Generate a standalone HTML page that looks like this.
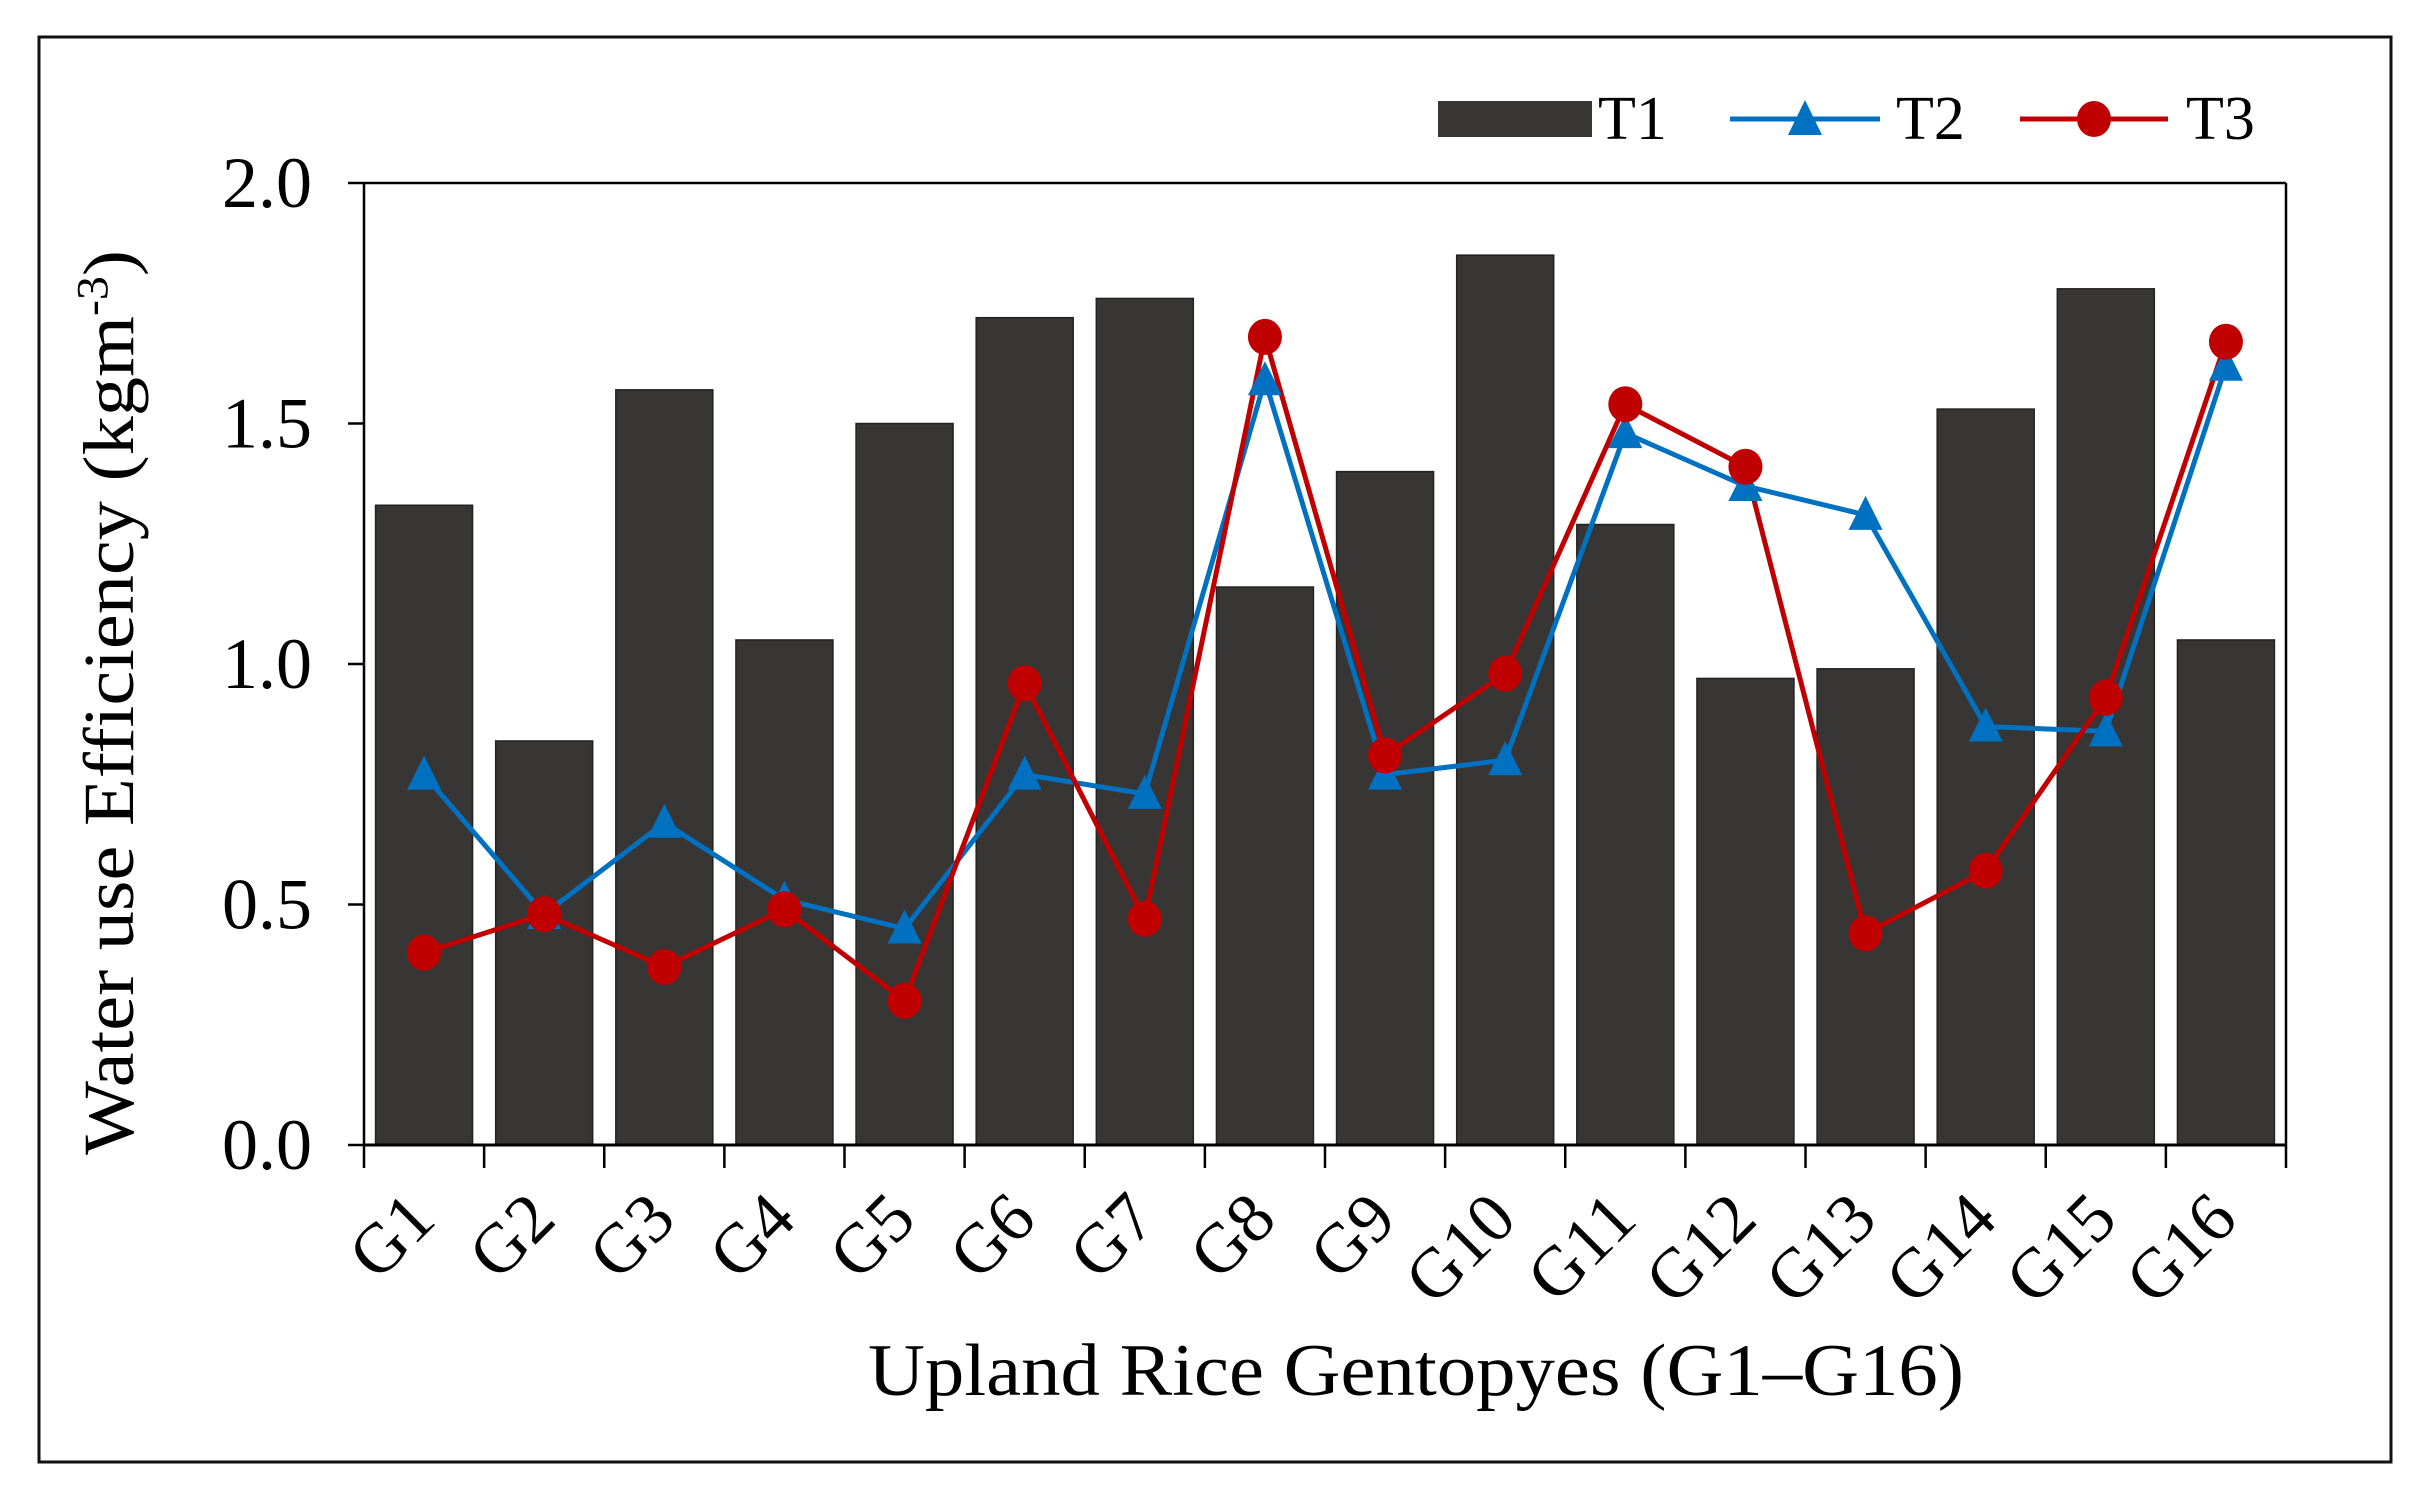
<!DOCTYPE html>
<html><head><meta charset="utf-8"><style>
html,body{margin:0;padding:0;background:#fff;}
svg{display:block;}
text{font-family:"Liberation Serif",serif;fill:#000;}
</style></head><body>
<svg width="2425" height="1498" viewBox="0 0 2425 1498" xmlns="http://www.w3.org/2000/svg">
<rect x="39" y="37" width="2352" height="1425" fill="#fff" stroke="#111" stroke-width="3"/>
<g id="bars" fill="#383634" stroke="#222" stroke-width="1.5"></g>
<line x1="364" y1="183" x2="2286" y2="183" stroke="#000" stroke-width="2.5"/>
<line x1="2286" y1="183" x2="2286" y2="1145" stroke="#000" stroke-width="2.5"/>
<line x1="364" y1="183" x2="364" y2="1145" stroke="#000" stroke-width="2.5"/>
<line x1="364" y1="1145" x2="2286" y2="1145" stroke="#000" stroke-width="3"/>
<g id="ticks" stroke="#000" stroke-width="2.5"></g>
<g id="ylab" font-size="72" text-anchor="end"></g>
<g id="xlab" font-size="70" text-anchor="end"></g>
<polyline id="l2" fill="none" stroke="#0070C0" stroke-width="5"/>
<polyline id="l3" fill="none" stroke="#C00000" stroke-width="5"/>
<g id="m2" fill="#0070C0"></g>
<g id="m3" fill="#C00000"></g>
<text x="868" y="1395" font-size="74" textLength="1096" lengthAdjust="spacingAndGlyphs">Upland Rice Gentopyes (G1–G16)</text>
<text transform="translate(133,1155) rotate(-90)" font-size="72" textLength="905" lengthAdjust="spacingAndGlyphs">Water use Efficiency (kgm<tspan dy="-26" font-size="44">-3</tspan><tspan dy="26">)</tspan></text>
<rect x="1438" y="101" width="154" height="36" fill="#383634"/>
<text x="1598" y="139" font-size="62">T1</text>
<line x1="1730" y1="119" x2="1880" y2="119" stroke="#0070C0" stroke-width="5"/>
<polygon points="1805,100 1788,135 1822,135" fill="#0070C0"/>
<text x="1896" y="139" font-size="62">T2</text>
<line x1="2020" y1="119" x2="2168" y2="119" stroke="#C00000" stroke-width="5"/>
<ellipse cx="2094" cy="119" rx="17" ry="18" fill="#C00000"/>
<text x="2186" y="139" font-size="62">T3</text>
</svg>
<script>
var t1=[1.33,0.84,1.57,1.05,1.50,1.72,1.76,1.16,1.40,1.85,1.29,0.97,0.99,1.53,1.78,1.05];
var t2=[0.77,0.48,0.67,0.51,0.45,0.77,0.73,1.59,0.77,0.80,1.48,1.37,1.31,0.87,0.86,1.62];
var t3=[0.40,0.48,0.37,0.49,0.30,0.96,0.47,1.68,0.81,0.98,1.54,1.41,0.44,0.57,0.93,1.67];
var x0=364,cw=(2286-364)/16,y0=1145,s=481;
function Y(v){return y0-v*s;}
var NS="http://www.w3.org/2000/svg";
function el(p,n,a,t){var e=document.createElementNS(NS,n);for(var k in a)e.setAttribute(k,a[k]);if(t)e.textContent=t;document.getElementById(p).appendChild(e);return e;}
var p2=[],p3=[];
for(var i=0;i<16;i++){
 var cx=x0+cw*(i+0.5);
 el("bars","rect",{x:cx-48.5,y:Y(t1[i]),width:97,height:t1[i]*s});
 p2.push(cx+","+Y(t2[i]));p3.push(cx+","+Y(t3[i]));
 el("xlab","text",{transform:"translate("+(cx+14)+",1222) rotate(-45)"},"G"+(i+1));
}
for(var i=0;i<=16;i++){var x=x0+cw*i;el("ticks","line",{x1:x,y1:1145,x2:x,y2:1168});}
for(var j=0;j<=4;j++){var y=Y(j*0.5);el("ticks","line",{x1:348,y1:y,x2:364,y2:y});el("ylab","text",{x:312,y:y+24},(j*0.5).toFixed(1));}
document.getElementById("l2").setAttribute("points",p2.join(" "));
document.getElementById("l3").setAttribute("points",p3.join(" "));
for(var i=0;i<16;i++){var cx=x0+cw*(i+0.5);
 var y=Y(t2[i]);el("m2","polygon",{points:cx+","+(y-19)+" "+(cx-17)+","+(y+15)+" "+(cx+17)+","+(y+15)});
 el("m3","ellipse",{cx:cx,cy:Y(t3[i]),rx:17,ry:18});}
</script>
</body></html>
